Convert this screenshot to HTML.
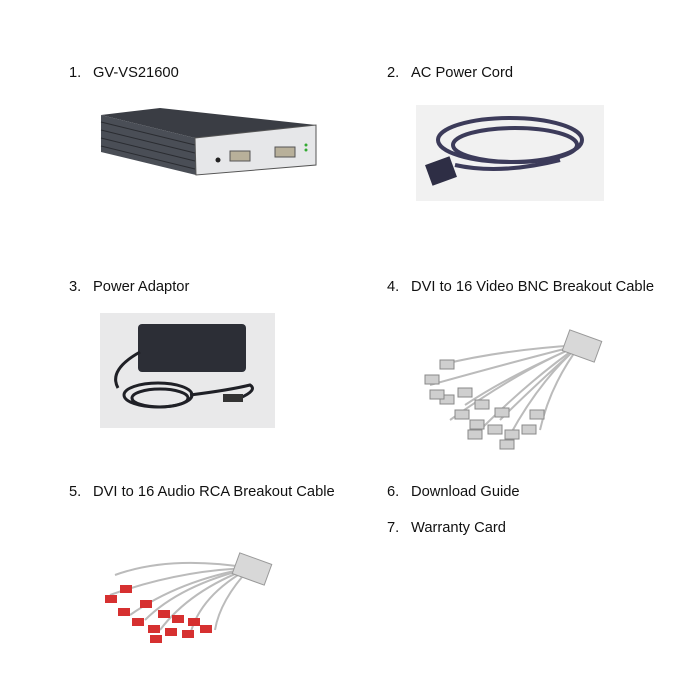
<!DOCTYPE html>
<html><head><style>
body{margin:0;width:700px;height:700px;background:#fff;position:relative;font-family:"Liberation Sans",Arial,sans-serif;font-size:14.7px;color:#111;overflow:hidden}
.t{position:absolute;white-space:nowrap}
svg{position:absolute;left:0;top:0}
</style></head><body>
<div class="t" style="left:69px;top:65px">1.</div><div class="t" style="left:93px;top:65px">GV-VS21600</div>
<div class="t" style="left:387px;top:65px">2.</div><div class="t" style="left:411px;top:65px">AC Power Cord</div>
<div class="t" style="left:69px;top:279px">3.</div><div class="t" style="left:93px;top:279px">Power Adaptor</div>
<div class="t" style="left:387px;top:279px">4.</div><div class="t" style="left:411px;top:279px">DVI to 16 Video BNC Breakout Cable</div>
<div class="t" style="left:69px;top:484px">5.</div><div class="t" style="left:93px;top:484px">DVI to 16 Audio RCA Breakout Cable</div>
<div class="t" style="left:387px;top:484px">6.</div><div class="t" style="left:411px;top:484px">Download Guide</div>
<div class="t" style="left:387px;top:520px">7.</div><div class="t" style="left:411px;top:520px">Warranty Card</div>
<svg width="700" height="700">
<polygon points="101,115 160,108 316,125 195,138" fill="#3a3d44"/>
<polygon points="101,115 195,138 196,175 101,152" fill="#4a4e56"/>
<g stroke="#2a2c31" stroke-width="1">
<line x1="101" y1="122" x2="195" y2="145"/><line x1="101" y1="130" x2="195" y2="153"/><line x1="101" y1="138" x2="195" y2="161"/><line x1="101" y1="146" x2="195" y2="169"/></g>
<polygon points="195,138 316,125 316,165 196,175" fill="#e6e7e9" stroke="#555" stroke-width="1"/>
<rect x="230" y="151" width="20" height="10" fill="#b8b09a" stroke="#555"/>
<rect x="275" y="147" width="20" height="10" fill="#b8b09a" stroke="#555"/>
<circle cx="218" cy="160" r="2.5" fill="#222"/>
<circle cx="306" cy="145" r="1.5" fill="#3a3"/><circle cx="306" cy="150" r="1.5" fill="#3a3"/>
<rect x="416" y="105" width="188" height="96" fill="#f1f1f1"/>
<g fill="none" stroke="#3c3b5a" stroke-width="4">
<ellipse cx="510" cy="140" rx="72" ry="22"/><ellipse cx="515" cy="145" rx="62" ry="17"/>
<path d="M455 165 Q500 175 560 160"/></g>
<rect x="428" y="160" width="26" height="22" fill="#2e2e45" transform="rotate(-20 441 171)"/>
<rect x="100" y="313" width="175" height="115" fill="#e9e9ea"/>
<rect x="138" y="324" width="108" height="48" rx="4" fill="#2c2e36"/>
<g fill="none" stroke="#1f2026" stroke-width="3">
<path d="M140 352 Q108 370 118 388"/>
<ellipse cx="158" cy="395" rx="34" ry="12"/><ellipse cx="160" cy="398" rx="28" ry="9"/>
<path d="M190 395 Q230 390 250 385 Q258 390 240 398"/></g>
<rect x="223" y="394" width="20" height="8" fill="#333"/>
<g stroke="#bbb" stroke-width="2" fill="none">
<path d="M580 345 Q520 360 430 385"/><path d="M580 345 Q520 370 450 420"/><path d="M580 345 Q530 380 480 430"/><path d="M580 345 Q540 380 510 435"/><path d="M580 345 Q550 385 540 430"/><path d="M580 345 Q500 350 440 365"/><path d="M580 345 Q510 375 465 405"/><path d="M580 345 Q530 390 500 420"/></g>
<g fill="#cfcfcf" stroke="#888" stroke-width="1">
<rect x="425" y="375" width="14" height="9"/><rect x="440" y="395" width="14" height="9"/><rect x="455" y="410" width="14" height="9"/><rect x="470" y="420" width="14" height="9"/><rect x="488" y="425" width="14" height="9"/><rect x="505" y="430" width="14" height="9"/><rect x="522" y="425" width="14" height="9"/><rect x="458" y="388" width="14" height="9"/><rect x="475" y="400" width="14" height="9"/><rect x="495" y="408" width="14" height="9"/><rect x="440" y="360" width="14" height="9"/><rect x="468" y="430" width="14" height="9"/><rect x="500" y="440" width="14" height="9"/><rect x="530" y="410" width="14" height="9"/><rect x="430" y="390" width="14" height="9"/></g>
<rect x="565" y="335" width="34" height="22" fill="#d8d8d8" stroke="#999" transform="rotate(20 582 346)"/>
<g stroke="#bbb" stroke-width="2" fill="none">
<path d="M250 568 Q180 570 110 595"/><path d="M250 568 Q180 580 130 615"/><path d="M250 568 Q190 590 160 630"/><path d="M250 568 Q200 595 190 635"/><path d="M250 568 Q220 600 215 630"/><path d="M250 568 Q170 555 115 575"/><path d="M250 568 Q180 585 145 620"/></g>
<g fill="#d63030">
<rect x="105" y="595" width="12" height="8"/><rect x="118" y="608" width="12" height="8"/><rect x="132" y="618" width="12" height="8"/><rect x="148" y="625" width="12" height="8"/><rect x="165" y="628" width="12" height="8"/><rect x="182" y="630" width="12" height="8"/><rect x="200" y="625" width="12" height="8"/><rect x="140" y="600" width="12" height="8"/><rect x="158" y="610" width="12" height="8"/><rect x="120" y="585" width="12" height="8"/><rect x="172" y="615" width="12" height="8"/><rect x="188" y="618" width="12" height="8"/><rect x="150" y="635" width="12" height="8"/></g>
<rect x="235" y="558" width="34" height="22" fill="#d8d8d8" stroke="#999" transform="rotate(20 252 569)"/>
</svg>
</body></html>
